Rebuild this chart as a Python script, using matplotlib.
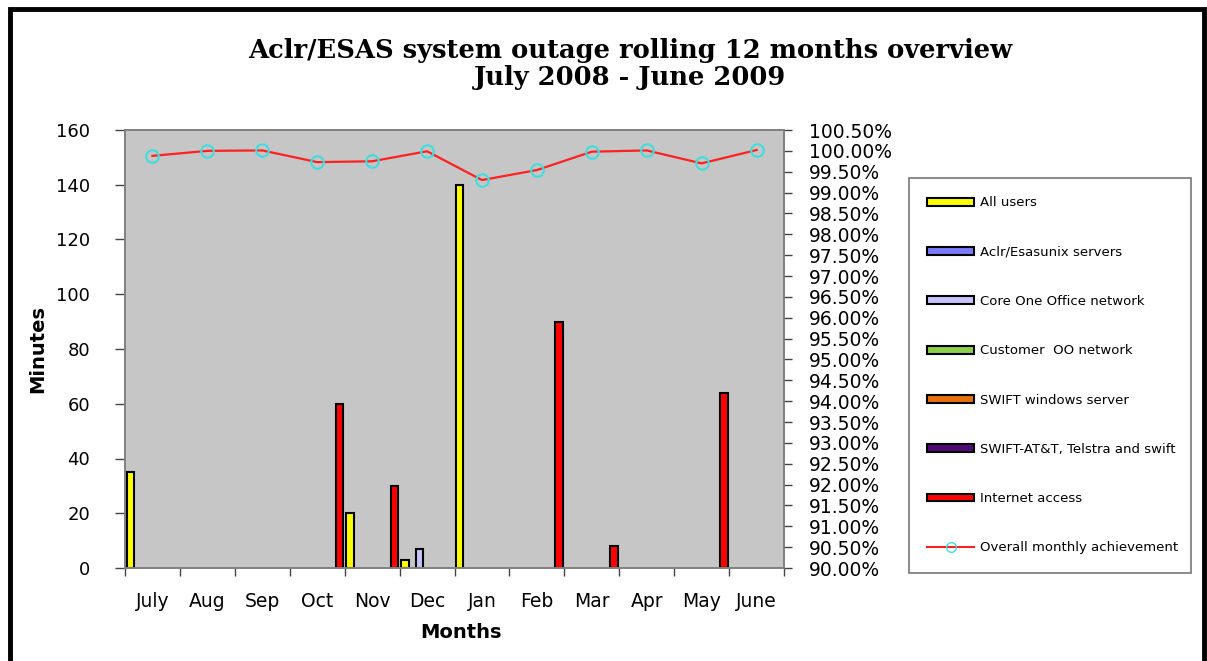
import numpy as np
import matplotlib
matplotlib.use("Agg")
import matplotlib.pyplot as plt
from matplotlib.patches import Patch, Rectangle
from matplotlib.lines import Line2D
from matplotlib.ticker import FuncFormatter

# Data
months = ['July', 'Aug', 'Sep', 'Oct', 'Nov', 'Dec', 'Jan', 'Feb', 'Mar', 'Apr', 'May', 'June']
all_users = [35, 0, 0, 0, 20, 3, 140, 0, 0, 0, 0, 0]
aclr_servers = [0, 0, 0, 0, 0, 0, 0, 0, 0, 0, 0, 0]
core_one_office = [0, 0, 0, 0, 0, 7, 0, 0, 0, 0, 0, 0]
customer_oo = [0, 0, 0, 0, 0, 0, 0, 0, 0, 0, 0, 0]
swift_windows = [0, 0, 0, 0, 0, 0, 0, 0, 0, 0, 0, 0]
swift_att = [0, 0, 0, 0, 0, 0, 0, 0, 0, 0, 0, 0]
internet_access = [0, 0, 0, 60, 30, 0, 0, 90, 8, 0, 64, 0]
achievement = [0.9988, 1.0000, 1.0001, 0.9973, 0.9975, 0.9999,
               0.9930, 0.9954, 0.9998, 1.0001, 0.9970, 1.0002]

series_names = ['All users', 'Aclr/Esasunix servers', 'Core One Office network',
                'Customer  OO network', 'SWIFT windows server',
                'SWIFT-AT&T, Telstra and swift', 'Internet access']
series_values = [all_users, aclr_servers, core_one_office, customer_oo,
                 swift_windows, swift_att, internet_access]
series_colors = ['#ffff00', '#7b7bff', '#c4c4ff', '#8ccf4a', '#e8700c', '#520a78', '#ff0000']

fig = plt.figure(figsize=(12.07, 6.61), dpi=100)
fig.patch.set_facecolor('white')

ax = fig.add_axes([125 / 1207, 1 - 568 / 661, 659 / 1207, 438 / 661])
ax.set_facecolor('#c6c6c6')

x = np.arange(len(months))
w = 0.135
for i, (vals, col) in enumerate(zip(series_values, series_colors)):
    vals = np.array(vals, dtype=float)
    mask = vals > 0
    ax.bar(x[mask] + (i - 3) * w, vals[mask], width=w, color=col,
           edgecolor='black', linewidth=1.5, zorder=2)

ax.set_xlim(-0.5, 11.5)
ax.set_ylim(0, 160)
ax.set_yticks(np.arange(0, 161, 20))
ax.set_xticks(np.arange(-0.5, 12, 1))
ax.set_xticklabels([])
ax.set_xticks(x, minor=True)
ax.set_xticklabels(months, minor=True)
ax.tick_params(axis='x', which='major', length=6, width=1, color='#444444', direction='out')
ax.tick_params(axis='x', which='minor', length=0, pad=17, labelsize=13.5)
ax.tick_params(axis='y', length=7, width=1, color='#444444', pad=18, labelsize=13)
for sp in ax.spines.values():
    sp.set_color('#808080')
    sp.set_linewidth(1.2)

ax.set_ylabel('Minutes', fontsize=14, fontweight='bold')
ax.yaxis.set_label_coords(-78 / 659, 0.5)
ax.set_xlabel('Months', fontsize=14, fontweight='bold')
ax.xaxis.set_label_coords(0.51, -55 / 438)

ax2 = ax.twinx()
ax2.plot(x, achievement, color='#ff2020', linewidth=1.6, marker='o', markersize=9,
         markerfacecolor='none', markeredgecolor='#3fdede', markeredgewidth=1.5, zorder=3)
ax2.set_ylim(0.9, 1.005)
ax2.set_yticks(np.arange(0.9, 1.0051, 0.005))
ax2.yaxis.set_major_formatter(FuncFormatter(lambda v, p: '{:.2f}%'.format(v * 100)))
ax2.tick_params(axis='y', length=6, width=1, color='#444444', pad=12, labelsize=13.5)
for sp in ax2.spines.values():
    sp.set_color('#808080')
    sp.set_linewidth(1.2)

fig.text(630 / 1207, 1 - 64 / 661, 'Aclr/ESAS system outage rolling 12 months overview\nJuly 2008 - June 2009',
         ha='center', va='center', fontsize=18.5, fontweight='bold', family='DejaVu Serif',
         linespacing=1.12)

handles = [Patch(facecolor=c, edgecolor='black', linewidth=1.5) for c in series_colors]
handles.append(Line2D([0], [0], color='#ff2020', linewidth=1.5, marker='o', markersize=7,
                      markerfacecolor='none', markeredgecolor='#3fdede'))
labels = series_names + ['Overall monthly achievement']
leg = fig.legend(handles, labels, loc='upper left',
                 bbox_to_anchor=(909 / 1207, 1 - 178 / 661, 282 / 1207, 0.0),
                 mode='expand', borderaxespad=0, fontsize=9.5, labelspacing=2.75,
                 handlelength=3.5, handleheight=0.55, handletextpad=0.5, borderpad=1.4,
                 fancybox=False, frameon=True)
leg.get_frame().set_edgecolor('#555555')
leg.get_frame().set_linewidth(1.2)

# outer frame around the whole picture
fig.patches.append(Rectangle((10 / 1207, -0.05), 1194 / 1207, 1.05 - 9 / 661,
                             transform=fig.transFigure, fill=False,
                             edgecolor='black', linewidth=3.5))

fig.savefig('out.png', dpi=100)
